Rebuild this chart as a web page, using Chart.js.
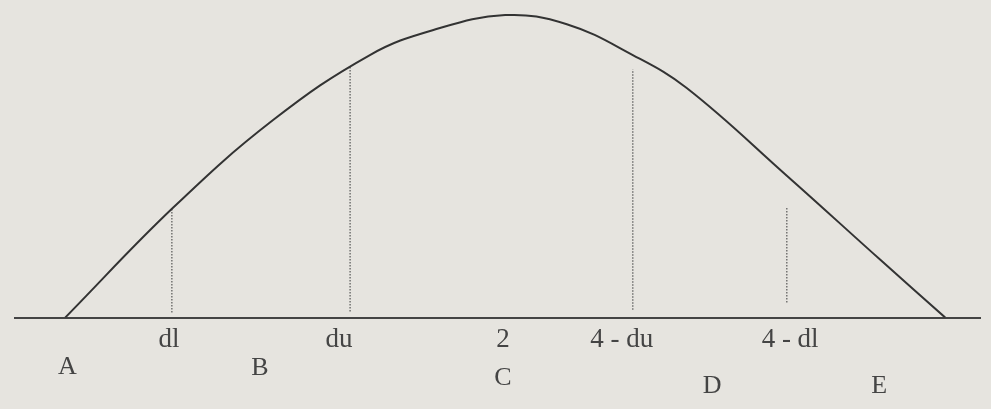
<!DOCTYPE html>
<html>
<head>
<meta charset="utf-8">
<title>Durbin-Watson</title>
<script src="https://cdn.jsdelivr.net/npm/chart.js@4.4.1/dist/chart.umd.min.js"></script>
<style>
    html, body { margin: 0; padding: 0; background: #e6e4df; }
    #wrap { width: 991px; height: 409px; }
</style>
</head>
<body>
<div id="wrap"><canvas id="dwChart" width="991" height="409"></canvas></div>
<script>
// Curve of the d statistic (x in d units, y relative height)
const curveX = [0.01, 0.50, 0.955, 1.395, 1.68, 2.01, 2.29, 2.59, 2.835, 3.29, 3.715, 4.01];
const curveY = [0, 0.363, 0.653, 0.868, 0.950, 1.00, 0.970, 0.868, 0.759, 0.469, 0.191, 0];

// Axis labels under the critical values
const tickValues = [0.482, 1.255, 2.0, 2.54, 3.305];
const tickLabels = ['dl', 'du', '2', '4 - du', '4 - dl'];

// Critical values (dotted lines)
const markerX = [0.495, 1.305, 2.59, 3.29];
const markerTop = [0.363, 0.83, 0.82, 0.366];
const markerBase = [0.017, 0.02, 0.026, 0.05];

// Decision regions
const regionLabels = ['A', 'B', 'C', 'D', 'E'];
const regionX = [0.02, 0.895, 2.0, 2.95, 3.71];

const inkColor = '#444444';
const textFont = '"Liberation Serif", "DejaVu Serif", serif';

const curveData = curveX.map((x, i) => ({ x: x, y: curveY[i] }));

const markerSets = markerX.map((x, i) => ({
    data: [{ x: x, y: markerBase[i] }, { x: x, y: markerTop[i] }],
    borderColor: '#555555',
    borderWidth: 1.2,
    borderDash: [1.5, 1.5],
    pointRadius: 0,
    fill: false
}));

// page background
const backgroundPlugin = {
    id: 'paper',
    beforeDraw(chart) {
        const ctx = chart.ctx;
        ctx.save();
        ctx.fillStyle = '#e6e4df';
        ctx.fillRect(0, 0, chart.width, chart.height);
        ctx.restore();
    }
};

// region letters under the axis
const regionOffsets = [50, 51, 61, 69, 69];
const regionPlugin = {
    id: 'regions',
    afterDraw(chart) {
        const ctx = chart.ctx;
        const xs = chart.scales.x;
        const base = chart.chartArea.bottom;
        ctx.save();
        ctx.fillStyle = inkColor;
        ctx.font = '26px ' + textFont;
        ctx.textAlign = 'center';
        ctx.textBaseline = 'middle';
        regionLabels.forEach((lab, i) => {
            ctx.fillText(lab, xs.getPixelForValue(regionX[i]), base + regionOffsets[i]);
        });
        ctx.restore();
    }
};

new Chart(document.getElementById('dwChart'), {
    type: 'line',
    data: {
        datasets: [{
            data: curveData,
            borderColor: '#333333',
            borderWidth: 2,
            pointRadius: 0,
            tension: 0.4,
            fill: false
        }].concat(markerSets)
    },
    options: {
        responsive: false,
        animation: false,
        layout: { padding: { left: 15, right: 11, top: 3, bottom: 47 } },
        plugins: {
            legend: { display: false },
            tooltip: { enabled: false }
        },
        scales: {
            x: {
                type: 'linear',
                min: -0.218,
                max: 4.168,
                grid: { display: false, drawTicks: false },
                border: { display: true, color: inkColor, width: 2 },
                afterBuildTicks: axis => {
                    axis.ticks = tickValues.map(v => ({ value: v }));
                },
                ticks: {
                    autoSkip: false,
                    maxRotation: 0,
                    padding: 6,
                    color: inkColor,
                    font: { family: textFont, size: 27 },
                    callback: (value, index) => tickLabels[index]
                }
            },
            y: {
                display: false,
                min: 0,
                max: 1.04
            }
        }
    },
    plugins: [backgroundPlugin, regionPlugin]
});
</script>
</body>
</html>
